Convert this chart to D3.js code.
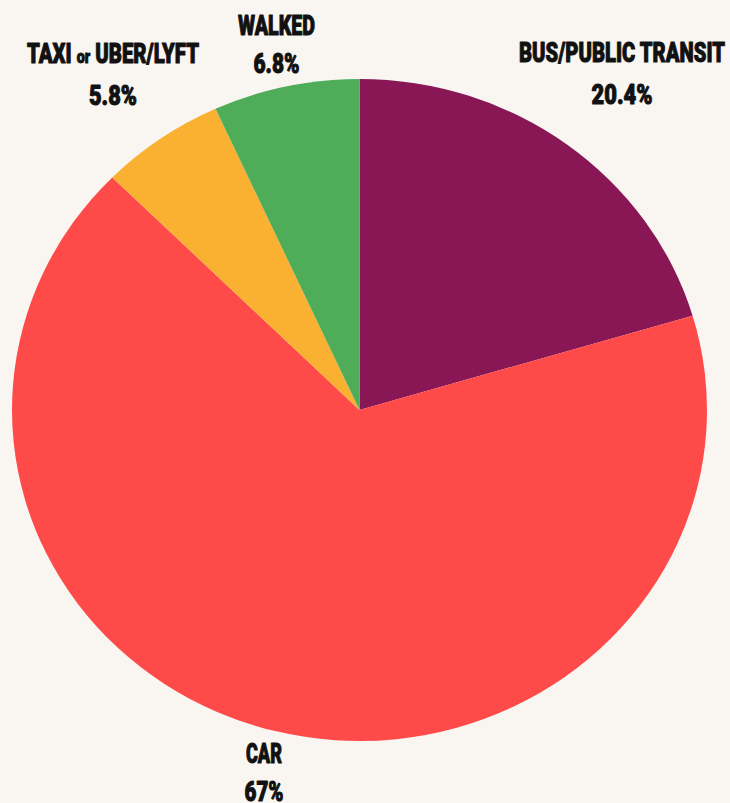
<!DOCTYPE html>
<html>
<head>
<meta charset="utf-8">
<script src="https://cdn.jsdelivr.net/npm/d3@7/dist/d3.min.js"></script>
<style>
  html, body { margin: 0; padding: 0; background: #f9f6f1; }
  svg { display: block; }
  text { font-family: "Roboto", "Liberation Sans Narrow", "Liberation Sans", sans-serif; font-weight: 900;
         fill: #111; stroke: #111; stroke-width: 1; stroke-linejoin: round; }
</style>
</head>
<body>
<svg id="chart" width="730" height="803"></svg>
<script>
// Commute mode shares (percent)
const categories = ["BUS/PUBLIC TRANSIT", "CAR", "TAXI or UBER/LYFT", "WALKED"];
const values = [20.4, 67, 5.8, 6.8];
const valueLabels = ["20.4%", "67%", "5.8%", "6.8%"];
const colors = ["#891755", "#ff4a4a", "#fab131", "#4fad5a"];

// Label layout: centre x, name baseline, value baseline, name width, value width
const labelLayout = [
  { x: 622, y1: 62, y2: 104, w1: 206, w2: 61 },
  { x: 264, y1: 763, y2: 801, w1: 36, w2: 39 },
  { x: 113, y1: 63, y2: 105, w1: 172, w2: 48 },
  { x: 276.5, y1: 35, y2: 73, w1: 77, w2: 46 }
];

const svg = d3.select("#chart");
const cx = 359.5, cy = 410, rx = 347.5, ry = 331;

const pie = d3.pie().sort(null).value(d => d);
const arc = d3.arc().innerRadius(0).outerRadius(rx);
const arcs = pie(values);

// The pie is drawn as a circle and squashed vertically into an ellipse
const g = svg.append("g")
  .attr("transform", `translate(${cx},${cy}) scale(1,${ry / rx})`);

g.selectAll("path")
  .data(arcs)
  .join("path")
  .attr("d", arc)
  .attr("fill", (d, i) => colors[i]);

const labels = svg.append("g");
categories.forEach((name, i) => {
  const L = labelLayout[i];
  const t = labels.append("text")
    .attr("x", L.x).attr("y", L.y1)
    .attr("text-anchor", "middle")
    .attr("font-size", 27)
    .attr("textLength", L.w1)
    .attr("lengthAdjust", "spacingAndGlyphs");
  if (name.includes(" or ")) {
    const [a, b] = name.split(" or ");
    t.text(a + " ");
    t.append("tspan").attr("font-size", 19).text("or");
    t.append("tspan").text(" " + b);
  } else {
    t.text(name);
  }
  labels.append("text")
    .attr("x", L.x).attr("y", L.y2)
    .attr("text-anchor", "middle")
    .attr("font-size", 27)
    .attr("textLength", L.w2)
    .attr("lengthAdjust", "spacingAndGlyphs")
    .text(valueLabels[i]);
});
</script>
</body>
</html>
